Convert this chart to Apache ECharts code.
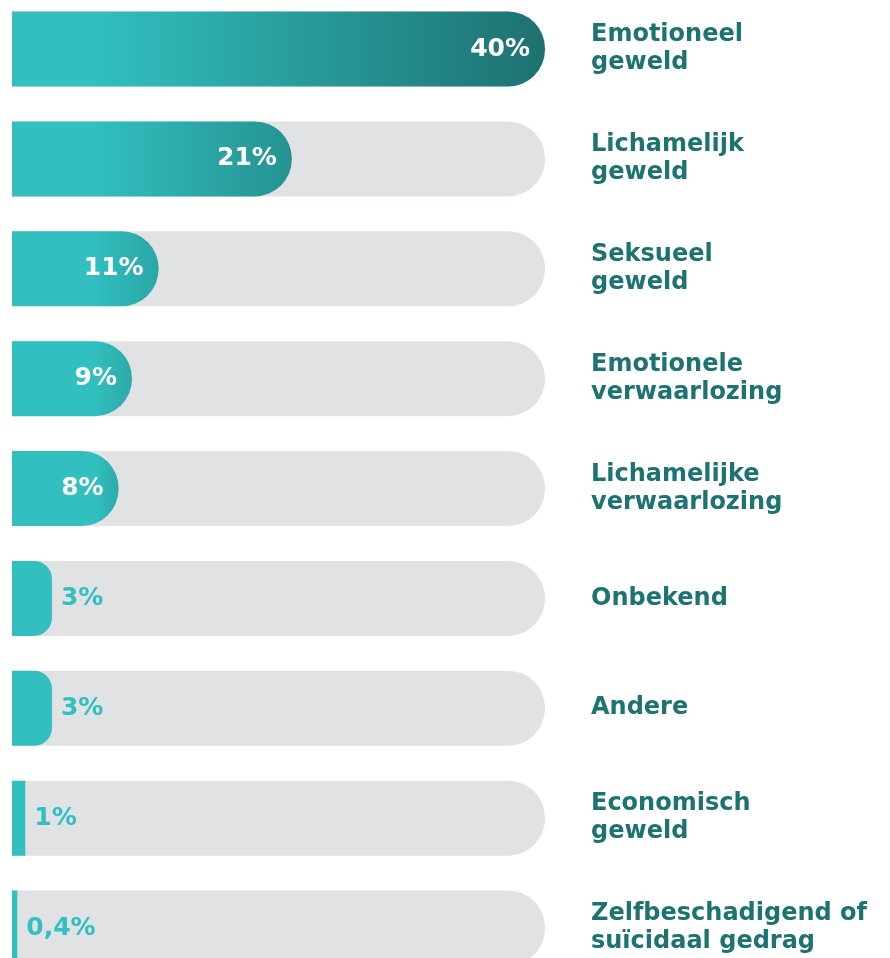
<!DOCTYPE html>
<html>
<head>
<meta charset="utf-8">
<script src="https://cdn.jsdelivr.net/npm/echarts@6/dist/echarts.min.js"></script>
<style>
  html, body { margin: 0; padding: 0; background: #ffffff; }
  #chart { width: 890px; height: 958px; }
</style>
</head>
<body>
<div id="chart"></div>
<script>
const categories = [
  'Emotioneel\ngeweld',
  'Lichamelijk\ngeweld',
  'Seksueel\ngeweld',
  'Emotionele\nverwaarlozing',
  'Lichamelijke\nverwaarlozing',
  'Onbekend',
  'Andere',
  'Economisch\ngeweld',
  'Zelfbeschadigend of\nsuïcidaal gedrag'
];
const values = [40, 21, 11, 9, 8, 3, 3, 1, 0.4];
const valueLabels = ['40%', '21%', '11%', '9%', '8%', '3%', '3%', '1%', '0,4%'];
const axisMax = 40;

const LIGHT = [49, 191, 191];
const DARK = [30, 113, 113];
const PLOT_W = 533;
function mix(t) {
  const c = LIGHT.map((l, i) => Math.round(l + (DARK[i] - l) * t));
  return 'rgb(' + c.join(',') + ')';
}

const seriesData = values.map((v, i) => {
  const w = v / axisMax * PLOT_W;
  const r = w >= 90 ? 37 : (w >= 30 ? w * 0.45 : 0);
  const inside = v >= 5;
  const s = Math.min(0.95, 83 / w);
  const t = Math.min(1, Math.pow(v / axisMax, 0.85));
  const color = inside ? {
    type: 'linear', x: 0, y: 0, x2: 1, y2: 0,
    colorStops: [
      { offset: 0, color: mix(0) },
      { offset: s, color: mix(0) },
      { offset: 1, color: mix(t) }
    ]
  } : mix(0);
  return {
    value: v,
    itemStyle: { color: color, borderRadius: [0, r, r, 0] },
    label: inside ? {
      position: 'insideRight', distance: 15, color: '#ffffff'
    } : {
      position: 'right', distance: 9, color: '#31bfbf'
    }
  };
});

const chart = echarts.init(document.getElementById('chart'), null, { renderer: 'canvas' });
chart.setOption({
  animation: false,
  backgroundColor: '#ffffff',
  grid: { left: 12, right: 345, top: 49, bottom: 30, containLabel: false },
  xAxis: { type: 'value', min: 0, max: axisMax, show: false },
  yAxis: {
    type: 'category',
    data: categories,
    inverse: true,
    position: 'right',
    boundaryGap: false,
    axisLine: { show: false },
    axisTick: { show: false },
    splitLine: { show: false },
    axisLabel: {
      margin: 46,
      align: 'left',
      color: '#1d7272',
      fontFamily: 'DejaVu Sans',
      fontWeight: 'bold',
      fontSize: 24,
      lineHeight: 28
    }
  },
  series: [{
    type: 'bar',
    data: seriesData,
    barWidth: 75,
    clip: false,
    showBackground: true,
    backgroundStyle: { color: '#e1e2e4', borderRadius: [0, 37, 37, 0] },
    label: {
      show: true,
      fontFamily: 'DejaVu Sans',
      fontWeight: 'bold',
      fontSize: 25,
      formatter: p => valueLabels[p.dataIndex]
    }
  }]
});
</script>
</body>
</html>
